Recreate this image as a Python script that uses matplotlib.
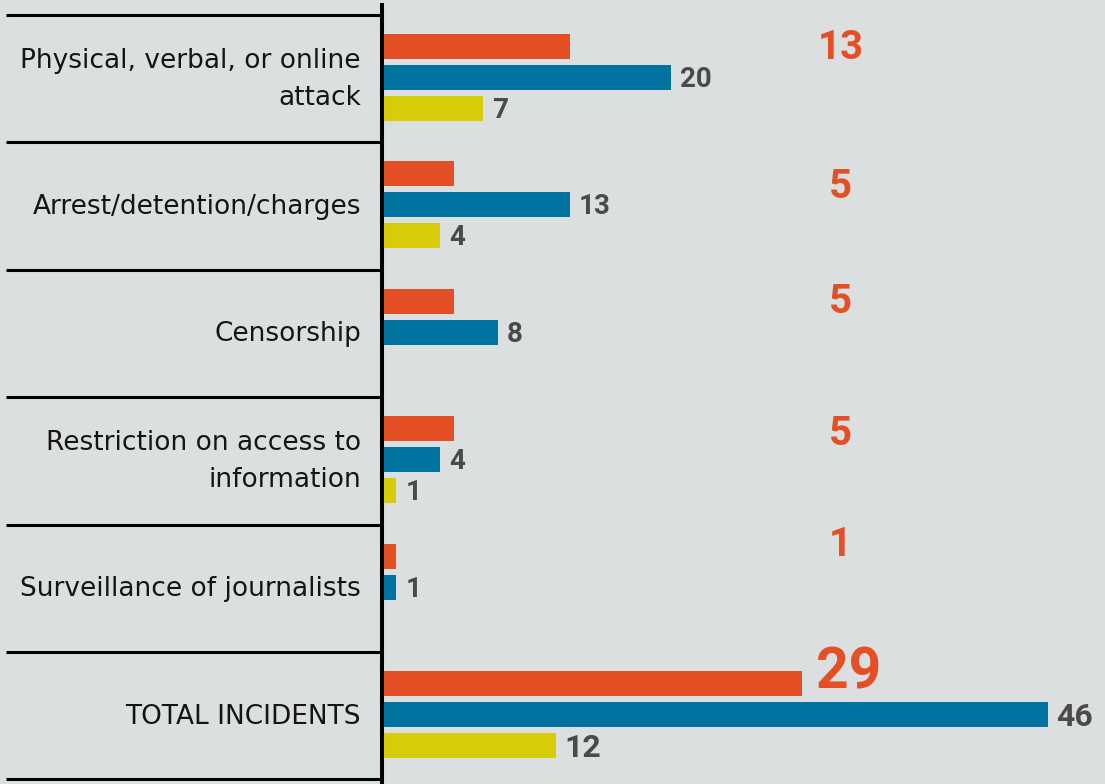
import numpy as np
import matplotlib.pyplot as plt
import matplotlib.transforms as mtransforms

# Dados
categorias = ["Physical, verbal, or online\nattack", "Arrest/detention/charges", "Censorship",
              "Restriction on access to\ninformation", "Surveillance of journalists", "TOTAL INCIDENTS"]
laranja = [13, 5, 5, 5, 1, 29]
azul = [20, 13, 8, 4, 1, 46]
amarelo = [7, 4, None, 1, None, 12]

# Cores
cor_fundo = '#DCDFE0'
cor_laranja = '#E54F25'
cor_azul = '#0073A1'
cor_amarelo = '#D8CC0A'
cor_texto = '#4A4A4A'

W, H = 1105, 784
fig = plt.figure(figsize=(W / 100, H / 100), dpi=100, facecolor=cor_fundo)
x0 = 382  # posição do eixo em pixels
escala = 14.47  # pixels por unidade
ax = fig.add_axes([x0 / W, 0, (W - x0) / W, 1])
ax.set_facecolor(cor_fundo)
ax.set_xlim(0, (W - x0) / escala)

passo = 127.4
topo = 77.5
ax.set_ylim((H - topo) / passo, -topo / passo)
for s in ax.spines.values():
    s.set_visible(False)
ax.set_xticks([])
ax.set_yticks([])

y = np.arange(len(categorias))
n = len(categorias)
desl = 31 / passo
alt = 25 / passo
dy = 2 / passo  # pequeno ajuste vertical dos textos
fonte_num = dict(fontweight='bold', family='Roboto')

ax.barh(y - desl, laranja, height=alt, color=cor_laranja)
ax.barh(y, azul, height=alt, color=cor_azul)
ya = [yi + desl for yi, v in zip(y, amarelo) if v is not None]
va_ = [v for v in amarelo if v is not None]
ax.barh(ya, va_, height=alt, color=cor_amarelo)

# Rótulos dos valores (cinza)
gap = 9 / escala
for i in range(n):
    tam = 23 if i == n - 1 else 20
    ax.text(azul[i] + gap, y[i] + dy, str(azul[i]), va='center', ha='left',
            fontsize=tam, color=cor_texto, **fonte_num)
    if amarelo[i] is not None:
        ax.text(amarelo[i] + gap, y[i] + desl + dy, str(amarelo[i]), va='center', ha='left',
                fontsize=tam, color=cor_texto, **fonte_num)

# Rótulos laranja grandes
ajuste = [-0.5, 11.5, -1.5, 3, -13.5]
for i in range(n - 1):
    ax.text(31.7, y[i] - desl + ajuste[i] / passo + dy, str(laranja[i]), va='center', ha='center',
            fontsize=29, color=cor_laranja, **fonte_num)
ax.text(laranja[n - 1] + 14 / escala, y[n - 1] - desl - 10.5 / passo, str(laranja[n - 1]),
        va='center', ha='left', fontsize=41, color=cor_laranja, **fonte_num)

# Eixo vertical
ax.axvline(0, ymin=0, ymax=1 - 5 / H, color='black', lw=2.9, zorder=5, clip_on=False)

# Separadores e categorias (lado esquerdo)
trans = mtransforms.blended_transform_factory(fig.transFigure, ax.transData)
for k in range(n + 1):
    yy = k - 0.49
    ax.plot([6 / W, 380 / W], [yy, yy], color='black', lw=2.2, transform=trans, clip_on=False,
            solid_capstyle='butt')
for i, c in enumerate(categorias):
    ax.text(361 / W, y[i] + 2 / passo, c, transform=trans, ha='right', va='center', fontsize=19,
            color='#151515', family='DejaVu Sans', linespacing=1.55, multialignment='right')

fig.savefig('out.png', dpi=100, facecolor=cor_fundo)
